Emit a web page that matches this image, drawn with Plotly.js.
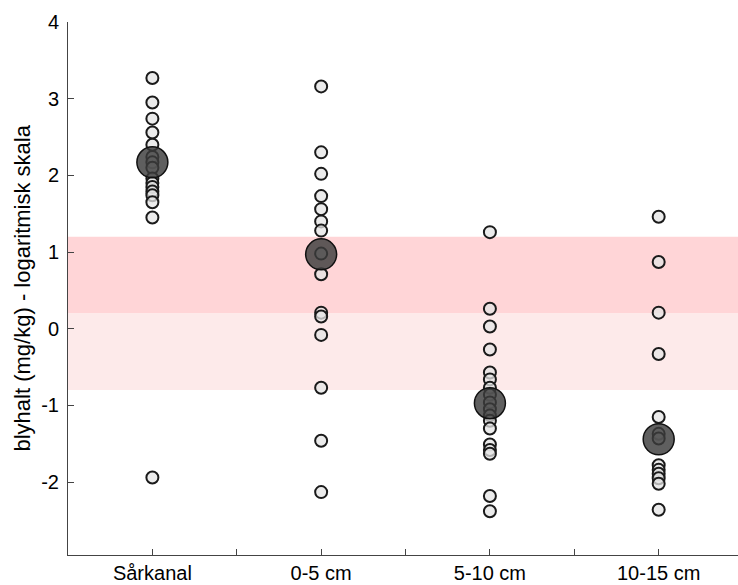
<!DOCTYPE html>
<html><head><meta charset="utf-8">
<script src="https://cdn.plot.ly/plotly-3.0.1.min.js"></script>
<style>html,body{margin:0;padding:0;background:#fff}#chart{width:738px;height:585px}</style>
</head><body><div id="chart"></div>
<script>
const categories = ['Sårkanal', '0-5 cm', '5-10 cm', '10-15 cm'];
const sarkanal = [3.27, 2.95, 2.74, 2.56, 2.40, 2.24, 2.17, 2.10, 1.96, 1.90, 1.85, 1.79, 1.74, 1.65, 1.45, -1.94];
const cm0_5 = [3.16, 2.30, 2.02, 1.73, 1.56, 1.40, 1.28, 0.98, 0.71, 0.21, 0.16, -0.08, -0.77, -1.46, -2.13];
const cm5_10 = [1.26, 0.26, 0.03, -0.27, -0.57, -0.66, -0.77, -0.86, -0.96, -1.05, -1.13, -1.20, -1.30, -1.51, -1.58, -1.63, -2.18, -2.38];
const cm10_15 = [1.46, 0.87, 0.21, -0.33, -1.15, -1.37, -1.43, -1.78, -1.84, -1.89, -1.95, -2.02, -2.36];
const centres = [2.17, 0.97, -0.97, -1.44];
const bandDark = [0.2, 1.2];
const bandLight = [-0.8, 0.2];
const yTicks = [-2, -1, 0, 1, 2, 3, 4];
const yTickText = ['-2', '-1', '0', '1', '2', '3', '4'];
const yTitle = 'blyhalt (mg/kg) - logaritmisk skala';

const series = [sarkanal, cm0_5, cm5_10, cm10_15];
const xs = [], ys = [];
series.forEach((arr, i) => arr.forEach(v => { xs.push(i); ys.push(v); }));

const traces = [
  {type: 'scatter', mode: 'markers', x: xs, y: ys, hoverinfo: 'y',
   marker: {size: 12, color: 'rgba(228,228,228,0.75)', line: {color: '#1a1a1a', width: 2}}},
  {type: 'scatter', mode: 'markers', x: categories.map((c, i) => i), y: centres, hoverinfo: 'y',
   marker: {size: 31, color: 'rgba(60,60,60,0.82)', line: {color: '#111', width: 1.5}}}
];

const tickvals = [], ticktext = [];
categories.forEach((c, i) => { tickvals.push(i); ticktext.push(c); if (i < categories.length - 1) { tickvals.push(i + 0.5); ticktext.push(''); } });

const layout = {
  width: 738, height: 585,
  margin: {l: 68, r: 0, t: 22, b: 30},
  paper_bgcolor: '#fff', plot_bgcolor: '#fff',
  showlegend: false,
  font: {family: '"Liberation Sans", Arial, sans-serif', color: '#000', size: 20},
  xaxis: {range: [-0.5, 3.47], tickmode: 'array', tickvals: tickvals, ticktext: ticktext,
          ticks: 'inside', ticklen: 6, tickcolor: '#444', showline: true, linecolor: '#444', linewidth: 1,
          showgrid: false, zeroline: false, tickfont: {size: 20}, ticklabelstandoff: 0},
  yaxis: {range: [-2.95, 4], tickmode: 'array', tickvals: yTicks, ticktext: yTickText,
          ticks: 'inside', ticklen: 6, tickcolor: '#444', showline: true, linecolor: '#444', linewidth: 1,
          showgrid: false, zeroline: false, tickfont: {size: 20}, ticklabelstandoff: 4},
  annotations: [
    {text: yTitle, xref: 'paper', yref: 'paper', x: 0, y: 0.5, xanchor: 'center', yanchor: 'middle',
     xshift: -46, textangle: -90, showarrow: false, font: {size: 22}}
  ],
  shapes: [
    {type: 'rect', xref: 'paper', x0: 0, x1: 1, yref: 'y', y0: bandDark[0], y1: bandDark[1], fillcolor: '#ffd5d7', line: {width: 0}, layer: 'below'},
    {type: 'rect', xref: 'paper', x0: 0, x1: 1, yref: 'y', y0: bandLight[0], y1: bandLight[1], fillcolor: '#fdeaea', line: {width: 0}, layer: 'below'}
  ]
};
Plotly.newPlot('chart', traces, layout, {displayModeBar: false, staticPlot: true});
</script></body></html>
